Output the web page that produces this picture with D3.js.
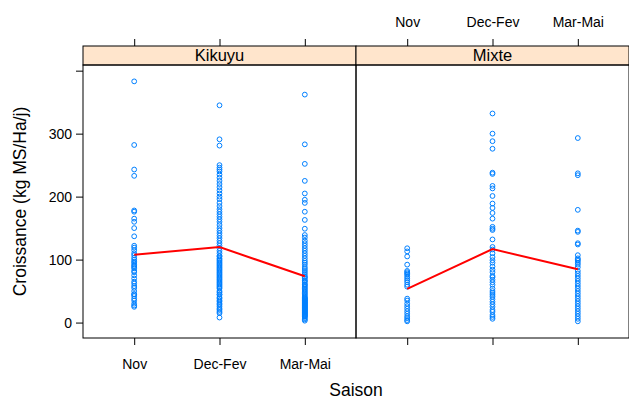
<!DOCTYPE html>
<html>
<head>
<meta charset="utf-8">
<script src="https://cdn.jsdelivr.net/npm/d3@7"></script>
<style>
  body { margin: 0; background: #fff; }
  svg text { font-family: "Liberation Sans", Arial, sans-serif; fill: #000; }
</style>
</head>
<body>
<svg id="chart" width="629" height="401"></svg>
<script>
// saisons et types de prairie
var saisons = ["Nov", "Dec-Fev", "Mar-Mai"];
var prairies = ["Kikuyu", "Mixte"];
var yTicks = [0, 100, 200, 300, 400];

// croissance (kg MS/Ha/j)
var kikuyuNov = [383, 282, 243, 233, 178, 176, 165, 160, 150, 137, 122, 119, 115, 110, 107, 103, 100, 97, 95, 92,
  90, 88, 86, 82, 80, 75, 70, 65, 62, 58, 55, 50, 45, 45, 42, 38, 35, 30, 27, 25];
var kikuyuDec = [345, 291, 281, 250, 246, 243, 240, 235, 230, 225, 220, 215, 210, 205, 200, 196, 190, 185, 180, 176,
  172, 168, 164, 160, 155, 150, 146, 142, 138, 134, 130, 126, 122, 118, 114, 110, 106, 105, 102, 100,
  98, 96, 94, 92, 90, 88, 86, 84, 82, 80, 78, 76, 74, 72, 70, 68, 66, 64, 62, 60,
  58, 56, 54, 50, 48, 45, 44, 40, 38, 35, 33, 30, 28, 25, 22, 20, 17, 15, 8];
var kikuyuMar = [362, 283, 252, 225, 205, 195, 190, 176, 163, 149, 139, 135, 130, 126, 122, 118, 114, 110, 106, 102,
  98, 95, 92, 88, 85, 82, 79, 76, 73, 70, 67, 64, 61, 58, 56, 54, 52, 50, 48, 46,
  44, 42, 40, 38, 36, 34, 32, 30, 28, 26, 24, 22, 20, 18, 16, 14, 12, 10, 72, 66,
  60, 3, 5, 7, 9, 11, 13, 15, 17, 19, 21, 23, 25, 27, 29, 31, 33, 35, 37, 39];
var mixteNov = [118, 113, 105, 92, 82, 80, 78, 76, 73, 70, 67, 64, 60, 57, 38, 35, 30, 26, 22, 18,
  14, 10, 7, 4, 2];
var mixteDec = [332, 300, 288, 276, 238, 236, 217, 213, 201, 189, 182, 174, 165, 152, 149, 147, 132, 120, 116, 110,
  104, 99, 95, 89, 84, 80, 74, 72, 68, 64, 60, 54, 50, 47, 44, 41, 37, 33, 29, 25,
  20, 17, 12, 9, 6];
var mixteMar = [293, 237, 234, 179, 146, 144, 126, 124, 107, 102, 100, 98, 95, 92, 88, 82, 78, 74, 70, 66,
  62, 58, 54, 50, 46, 42, 38, 34, 30, 26, 22, 18, 14, 10, 6, 2];

var series = {
  "Kikuyu": [kikuyuNov, kikuyuDec, kikuyuMar],
  "Mixte": [mixteNov, mixteDec, mixteMar]
};

var svg = d3.select("#chart");

var panelTop = 65, panelBottom = 338, stripTop = 46;
var panelX = [83, 356], panelW = 273;

var y = d3.scaleLinear().domain([-24.5, 409]).range([panelBottom, panelTop]);

prairies.forEach(function(name, i) {
  var x0 = panelX[i];
  var x = d3.scalePoint().domain(saisons).range([x0, x0 + panelW]).padding(0.6);
  var g = svg.append("g");

  // bande du titre
  g.append("rect")
    .attr("x", x0).attr("y", stripTop)
    .attr("width", panelW).attr("height", panelTop - stripTop)
    .attr("fill", "#ffe5cc").attr("stroke", "#000").attr("stroke-width", 1);
  g.append("text")
    .attr("x", x0 + panelW / 2).attr("y", panelTop - 4)
    .attr("text-anchor", "middle").attr("font-size", 16.5)
    .text(name);

  // points
  var pts = [];
  series[name].forEach(function(vals, j) {
    vals.forEach(function(v) { pts.push({s: saisons[j], v: v}); });
  });
  g.selectAll("circle").data(pts).enter().append("circle")
    .attr("cx", function(d) { return x(d.s); })
    .attr("cy", function(d) { return y(d.v); })
    .attr("r", 2.4)
    .attr("fill", "none").attr("stroke", "#0080ff").attr("stroke-width", 1);

  // moyennes
  var means = series[name].map(function(vals, j) { return {s: saisons[j], v: d3.mean(vals)}; });
  g.append("path")
    .attr("d", d3.line().x(function(d) { return x(d.s); }).y(function(d) { return y(d.v); })(means))
    .attr("fill", "none").attr("stroke", "#ff0000").attr("stroke-width", 2);

  // cadre
  g.append("rect")
    .attr("x", x0).attr("y", panelTop)
    .attr("width", panelW).attr("height", panelBottom - panelTop)
    .attr("fill", "none").attr("stroke", "#000").attr("stroke-width", 1);

  // axe du bas (etiquettes seulement sous le premier panneau)
  var bottom = svg.append("g").attr("transform", "translate(0," + panelBottom + ")")
    .call(d3.axisBottom(x).tickSize(7).tickPadding(14).tickFormat(i === 0 ? null : ""));
  // axe du haut (etiquettes seulement sur le second panneau)
  var top = svg.append("g").attr("transform", "translate(0," + stripTop + ")")
    .call(d3.axisTop(x).tickSize(7).tickPadding(12).tickFormat(i === 1 ? null : ""));
  [bottom, top].forEach(function(ax) {
    ax.select(".domain").remove();
    ax.selectAll("text").attr("font-size", 14).style("font-family", "Liberation Sans, Arial, sans-serif").attr("fill", "#000");
    ax.selectAll("line").attr("stroke", "#000");
  });
});

// axe vertical
var left = svg.append("g").attr("transform", "translate(" + panelX[0] + ",0)")
  .call(d3.axisLeft(y).tickValues(yTicks).tickSize(7).tickPadding(4)
    .tickFormat(function(d) { return d === 400 ? "" : d; }));
left.select(".domain").remove();
left.selectAll("text").attr("font-size", 14).style("font-family", "Liberation Sans, Arial, sans-serif").attr("fill", "#000");
left.selectAll("line").attr("stroke", "#000");

// titres
svg.append("text")
  .attr("x", (panelX[0] + panelX[1] + panelW) / 2).attr("y", 396)
  .attr("text-anchor", "middle").attr("font-size", 17.5)
  .text("Saison");
svg.append("text")
  .attr("transform", "translate(26," + ((panelTop + panelBottom) / 2) + ") rotate(-90)")
  .attr("text-anchor", "middle").attr("font-size", 17.5)
  .text("Croissance (kg MS/Ha/j)");
</script>
</body>
</html>
